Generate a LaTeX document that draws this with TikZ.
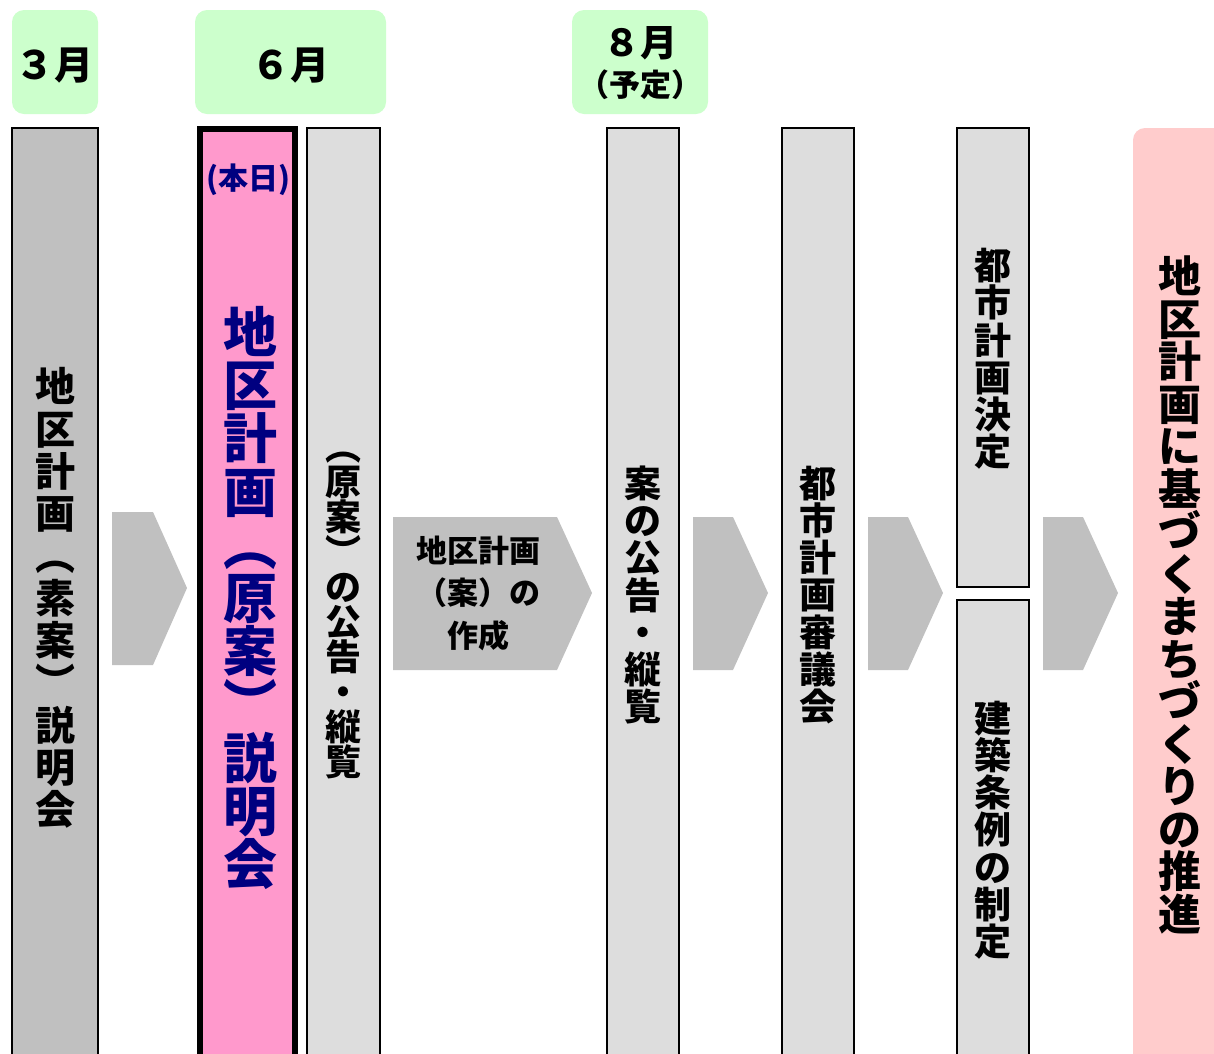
\documentclass[tikz,border=0pt]{standalone}
\usepackage{fontspec}
\setmainfont{Noto Sans CJK JP}
\definecolor{mgreen}{HTML}{CCFFCC}
\definecolor{dgray}{HTML}{C0C0C0}
\definecolor{lgray}{HTML}{DDDDDD}
\definecolor{hpink}{HTML}{FF99CC}
\definecolor{lpink}{HTML}{FFCCCC}
\definecolor{navy}{HTML}{000080}
\begin{document}
\begin{tikzpicture}[x=1pt,y=-1pt,
  monthbox/.style={fill=mgreen, rounded corners=12pt},
  barbox/.style={draw=black, line width=1.6pt},
  chev/.style={fill=dgray},
  vtext/.style={align=center, inner sep=0pt},
  fs/.style 2 args={font=\bfseries\fontsize{#1}{#2}\selectfont}]
\useasboundingbox (0,0) rectangle (1214,1053);
\clip (0,0) rectangle (1214,1053);
\fill[white] (0,0) rectangle (1214,1053);

% month boxes
\fill[monthbox] (12,10) rectangle (98,114);
\fill[monthbox] (195,10) rectangle (386,114);
\fill[monthbox] (572,10) rectangle (708,114);
\node[fs={39}{42}] (m3) at (55,66) {３月};
\node[fs={39}{42}] (m6) at (290,66) {６月};
\node[fs={37}{40}] (m8) at (640,43) {８月};
\node[fs={31}{34}] (m8b) at (640,85) {（予定）};

% columns
\draw[barbox, fill=dgray] (12,128) rectangle (98,1070);
\draw[draw=black, line width=6pt, fill=hpink] (199.5,128.5) rectangle (295,1070);
\draw[barbox, fill=lgray] (307,128) rectangle (380,1070);
\draw[barbox, fill=lgray] (607,128) rectangle (679,1070);
\draw[barbox, fill=lgray] (782,128) rectangle (854,1070);
\draw[barbox, fill=lgray] (957,128) rectangle (1029,587);
\draw[barbox, fill=lgray] (957,600) rectangle (1029,1070);
\fill[lpink, rounded corners=12pt] (1133,128) rectangle (1240,1080);

% chevrons
\fill[chev] (112,512) -- (153,512) -- (187,588) -- (153,665) -- (112,665) -- cycle;
\fill[chev] (393,517) -- (557,517) -- (592,593) -- (557,670) -- (393,670) -- cycle;
\fill[chev] (693,517) -- (733,517) -- (768,593) -- (733,670) -- (693,670) -- cycle;
\fill[chev] (868,517) -- (908,517) -- (943,593) -- (908,670) -- (868,670) -- cycle;
\fill[chev] (1043,517) -- (1083,517) -- (1118,593) -- (1083,670) -- (1043,670) -- cycle;

% texts
\node[vtext, fs={40}{42.3}] (t1) at (55,598) {地\\区\\計\\画\\︵\\素\\案\\︶\\説\\明\\会};
\node[fs={30}{34}, text=navy] (today) at (248,180) {(本日)};
\node[vtext, fs={54}{53.2}, text=navy] (t2) at (250,598) {地\\区\\計\\画\\︵\\原\\案\\︶\\説\\明\\会};
\node[vtext, fs={36}{35}] (t3) at (343,615) {︵\\原\\案\\︶\\の\\公\\告\\・\\縦\\覧};
\node[align=center, fs={31}{42.5}] (t35) at (478,593) {地区計画\\（案）の\\作成};
\node[vtext, fs={37}{37.2}] (t4) at (643,595) {案\\の\\公\\告\\・\\縦\\覧};
\node[vtext, fs={37}{37.2}] (t5) at (818,595) {都\\市\\計\\画\\審\\議\\会};
\node[vtext, fs={37}{37.2}] (t6a) at (993,359) {都\\市\\計\\画\\決\\定};
\node[vtext, fs={37}{37.2}] (t6b) at (993,830) {建\\築\\条\\例\\の\\制\\定};
\node[vtext, fs={43}{42.5}] (t7) at (1180,595) {地\\区\\計\\画\\に\\基\\づ\\く\\ま\\ち\\づ\\く\\り\\の\\推\\進};
\end{tikzpicture}
\end{document}
